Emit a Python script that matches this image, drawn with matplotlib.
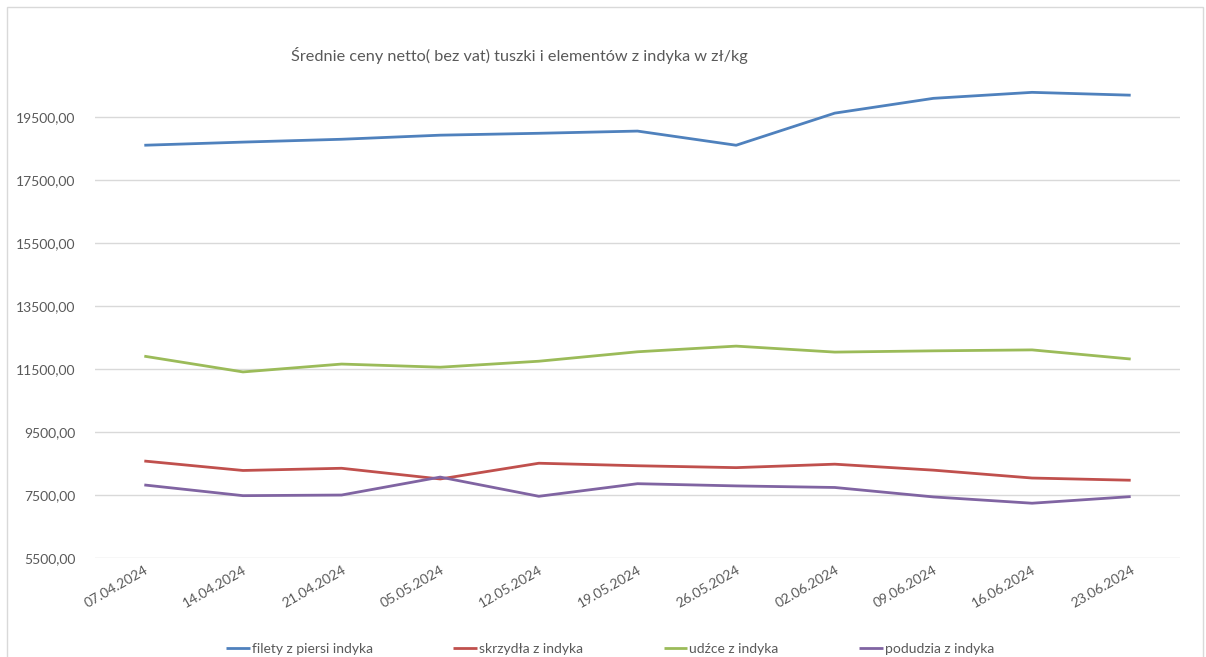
import matplotlib.pyplot as plt
from matplotlib.patches import Rectangle

plt.rcParams['font.family'] = ['Lato', 'DejaVu Sans']

# dane
daty = ['07.04.2024', '14.04.2024', '21.04.2024', '05.05.2024', '12.05.2024',
        '19.05.2024', '26.05.2024', '02.06.2024', '09.06.2024', '16.06.2024',
        '23.06.2024']
filety = [18610, 18710, 18800, 18930, 18990, 19060, 18610, 19630, 20100, 20290, 20200]
skrzydla = [8580, 8280, 8350, 8010, 8510, 8430, 8370, 8480, 8290, 8040, 7970]
udzce = [11910, 11410, 11660, 11560, 11750, 12050, 12230, 12040, 12080, 12110, 11820]
podudzia = [7820, 7480, 7500, 8070, 7460, 7860, 7790, 7740, 7440, 7240, 7450]

nazwy = ['filety z piersi indyka', 'skrzydła z indyka', 'udźce z indyka', 'podudzia z indyka']
kolory = ['#4F81BD', '#C0504D', '#9BBB59', '#8064A2']
serie = [filety, skrzydla, udzce, podudzia]

fig = plt.figure(figsize=(12.06, 6.57), dpi=100)
ax = fig.add_axes([95 / 1206, 1 - 558 / 657, 1085 / 1206, 488 / 657])

x = range(len(daty))
for s, n, k in zip(serie, nazwy, kolory):
    ax.plot(x, s, color=k, linewidth=2.0, label=n, solid_capstyle='butt')

ax.set_xlim(-0.5, len(daty) - 0.5)
ax.set_ylim(5500, 21000)
ax.set_yticks(range(5500, 20000, 2000))
ax.set_yticklabels([f'{v},00' for v in range(5500, 20000, 2000)])
ax.set_xticks(list(x))
ax.set_xticklabels(daty, rotation=30, ha='right', rotation_mode='anchor')
ax.tick_params(axis='both', length=0, labelsize=10, colors='#595959')
ax.tick_params(axis='y', pad=14)
ax.tick_params(axis='x', pad=4)
ax.grid(axis='y', color='#D9D9D9', linewidth=1)
ax.set_axisbelow(True)
for sp in ax.spines.values():
    sp.set_visible(False)

fig.text(519 / 1206, 1 - 55 / 657, 'Średnie ceny netto( bez vat) tuszki i elementów z indyka w zł/kg',
         ha='center', va='center', fontsize=11.7, color='#595959')

fig.legend(loc='center', bbox_to_anchor=(610 / 1206, 1 - 649 / 657), ncol=4,
           frameon=False, fontsize=10, handlelength=1.7, handletextpad=0.15,
           columnspacing=5.8, labelcolor='#595959')

fig.patches.append(Rectangle((7 / 1206, -0.01), 1196 / 1206, 1.0, transform=fig.transFigure,
                             fill=False, edgecolor='#D9D9D9', linewidth=1))

fig.savefig('out.png', dpi=100)
